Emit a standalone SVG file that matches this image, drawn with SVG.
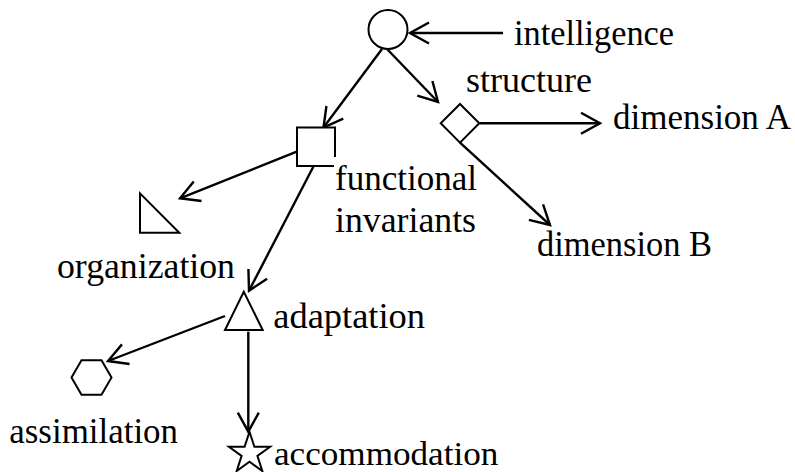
<svg xmlns="http://www.w3.org/2000/svg" width="795" height="472" viewBox="0 0 795 472">
<style>
  .shape { fill: #fff; stroke: #000; stroke-width: 2; stroke-linejoin: miter; }
  .edge { fill: none; stroke: #000; stroke-width: 2.4; }
  .lbl { font-family: "Liberation Serif", "Times New Roman", serif; font-size: 35px; fill: #000; }
  .bg { fill: #fff; stroke: none; }
</style>
<defs>
  <marker id="arr" markerUnits="userSpaceOnUse" markerWidth="30" markerHeight="30" viewBox="-25 -15 30 30" refX="0" refY="0" orient="auto" overflow="visible">
    <path d="M -19,-10.5 L 0,0 L -19,10.5" fill="none" stroke="#000" stroke-width="2.4"/>
  </marker>
</defs>
<rect width="795" height="472" fill="#fff"/>

<g id="connectors">
  <line class="edge" x1="503" y1="33" x2="410" y2="33" marker-end="url(#arr)"/>
  <line class="edge" x1="382" y1="49" x2="323.5" y2="127.5" marker-end="url(#arr)"/>
  <line class="edge" x1="387" y1="49" x2="438" y2="102" marker-end="url(#arr)"/>
  <line class="edge" x1="479.3" y1="123.3" x2="600" y2="123.3" marker-end="url(#arr)"/>
  <line class="edge" x1="460" y1="142.7" x2="550" y2="225" marker-end="url(#arr)"/>
  <line class="edge" x1="296.7" y1="151.7" x2="180" y2="198.3" marker-end="url(#arr)"/>
  <line class="edge" x1="313.3" y1="166.7" x2="249" y2="290.7" marker-end="url(#arr)"/>
  <line class="edge" x1="225" y1="316" x2="108" y2="361" marker-end="url(#arr)"/>
  <line class="edge" x1="248.3" y1="331.7" x2="248.3" y2="431.7" marker-end="url(#arr)"/>
</g>

<g id="intelligence">
  <circle class="shape" cx="388" cy="29.5" r="19.5"/>
  <text class="lbl" x="514" y="45" textLength="160" lengthAdjust="spacingAndGlyphs">intelligence</text>
</g>

<g id="functional-invariants">
  <rect class="shape" x="297" y="127.5" width="38" height="38.5"/>
  <rect class="bg" x="334" y="157" width="10" height="12"/>
  <text class="lbl" x="335" y="190" textLength="142" lengthAdjust="spacingAndGlyphs">functional</text>
  <text class="lbl" x="335" y="231.7" textLength="141" lengthAdjust="spacingAndGlyphs">invariants</text>
</g>

<g id="structure">
  <polygon class="shape" points="460,104 479.3,123.3 460,142.7 440.7,123.3"/>
  <text class="lbl" x="466" y="92" textLength="126" lengthAdjust="spacingAndGlyphs">structure</text>
</g>

<g id="dimension-a">
  <text class="lbl" x="613" y="129" textLength="178" lengthAdjust="spacingAndGlyphs">dimension A</text>
</g>

<g id="dimension-b">
  <text class="lbl" x="537" y="256" textLength="175" lengthAdjust="spacingAndGlyphs">dimension B</text>
</g>

<g id="organization">
  <polygon class="shape" points="140,193.3 140,232.7 179.3,232.7"/>
  <text class="lbl" x="57" y="278" textLength="178" lengthAdjust="spacingAndGlyphs">organization</text>
</g>

<g id="adaptation">
  <polygon class="shape" points="243.8,291.7 225,330 262.7,330"/>
  <text class="lbl" x="273.3" y="328" textLength="151.7" lengthAdjust="spacingAndGlyphs">adaptation</text>
</g>

<g id="assimilation">
  <polygon class="shape" points="71.5,377.5 81.5,360.3 101.5,360.3 111.5,377.5 101.5,394.7 81.5,394.7"/>
  <text class="lbl" x="9.3" y="443.3" textLength="168.7" lengthAdjust="spacingAndGlyphs">assimilation</text>
</g>

<g id="accommodation">
  <polygon class="shape" points="249.5,431.7 254.4,446.7 270.1,446.7 257.4,455.9 262.3,471 249.5,461.7 236.7,471 241.6,455.9 228.9,446.7 244.6,446.7"/>
  <text class="lbl" x="274" y="464.5" style="font-size:33px" textLength="224.3" lengthAdjust="spacingAndGlyphs">accommodation</text>
</g>
</svg>
